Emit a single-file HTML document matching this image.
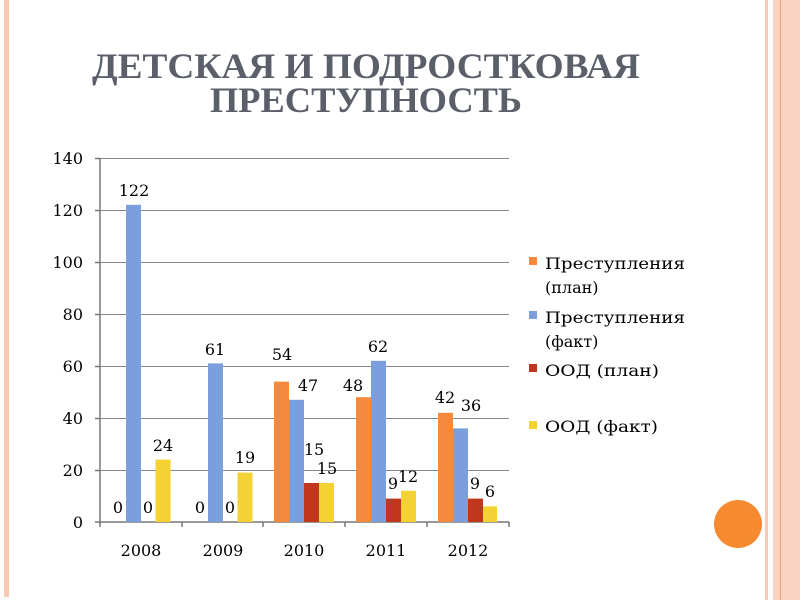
<!DOCTYPE html>
<html><head><meta charset="utf-8"><style>
html,body{margin:0;padding:0;background:#fff;}
svg{display:block;}
</style></head><body>
<svg width="800" height="600" viewBox="0 0 800 600" xmlns="http://www.w3.org/2000/svg" font-family="'DejaVu Serif', 'Liberation Serif', serif">
<rect x="0" y="0" width="800" height="600" fill="#fff"/>
<rect x="4" y="0" width="5" height="597" fill="#f9c9b5"/>
<rect x="765" y="0" width="3" height="600" fill="#f9c9b5"/>
<rect x="773" y="0" width="27" height="600" fill="#fbd3c2"/>
<rect x="780" y="0" width="1" height="600" fill="#f2a070"/>
<circle cx="738" cy="524" r="24" fill="#f58a30"/>
<g fill="#5a5f6a" font-weight="bold" font-size="36" text-anchor="middle" font-family="'Liberation Serif', serif">
<text x="366" y="78" textLength="548" lengthAdjust="spacingAndGlyphs">ДЕТСКАЯ И ПОДРОСТКОВАЯ</text>
<text x="366" y="112" textLength="312" lengthAdjust="spacingAndGlyphs">ПРЕСТУПНОСТЬ</text>
</g>
<g stroke="#888" stroke-width="1">
<line x1="100" y1="158.5" x2="509" y2="158.5"/>
<line x1="100" y1="210.5" x2="509" y2="210.5"/>
<line x1="100" y1="262.5" x2="509" y2="262.5"/>
<line x1="100" y1="314.5" x2="509" y2="314.5"/>
<line x1="100" y1="366.5" x2="509" y2="366.5"/>
<line x1="100" y1="418.5" x2="509" y2="418.5"/>
<line x1="100" y1="470.5" x2="509" y2="470.5"/>
</g>
<g stroke="#777" stroke-width="1.5">
<line x1="100" y1="158" x2="100" y2="527"/>
<line x1="95" y1="522" x2="509" y2="522"/>
<line x1="95" y1="158.5" x2="100" y2="158.5"/><line x1="95" y1="210.5" x2="100" y2="210.5"/>
<line x1="95" y1="262.5" x2="100" y2="262.5"/><line x1="95" y1="314.5" x2="100" y2="314.5"/>
<line x1="95" y1="366.5" x2="100" y2="366.5"/><line x1="95" y1="418.5" x2="100" y2="418.5"/>
<line x1="95" y1="470.5" x2="100" y2="470.5"/>
<line x1="182" y1="522" x2="182" y2="527"/><line x1="263" y1="522" x2="263" y2="527"/>
<line x1="345" y1="522" x2="345" y2="527"/><line x1="427" y1="522" x2="427" y2="527"/>
<line x1="509" y1="522" x2="509" y2="527"/>
</g>
<g font-size="16" fill="#000" text-anchor="end">
<text x="83" y="164">140</text><text x="83" y="216">120</text><text x="83" y="268">100</text>
<text x="83" y="320">80</text><text x="83" y="372">60</text><text x="83" y="424">40</text>
<text x="83" y="476">20</text><text x="83" y="528">0</text>
</g>
<g font-size="16" fill="#000" text-anchor="middle">
<text x="141" y="556">2008</text><text x="223" y="556">2009</text><text x="304" y="556">2010</text>
<text x="386" y="556">2011</text><text x="468" y="556">2012</text>
</g>
<g>
<rect x="126" y="204.8" width="15" height="317.2" fill="#7a9fdc"/>
<rect x="155.5" y="459.6" width="15" height="62.4" fill="#f5d234"/>
<rect x="208" y="363.4" width="15" height="158.6" fill="#7a9fdc"/>
<rect x="237.5" y="472.6" width="15" height="49.4" fill="#f5d234"/>
<rect x="274" y="381.6" width="15" height="140.4" fill="#f58a3c"/>
<rect x="289" y="399.8" width="15" height="122.2" fill="#7a9fdc"/>
<rect x="304" y="483" width="15" height="39" fill="#c0361f"/>
<rect x="319" y="483" width="15" height="39" fill="#f5d234"/>
<rect x="356" y="397.2" width="15" height="124.8" fill="#f58a3c"/>
<rect x="371" y="360.8" width="15" height="161.2" fill="#7a9fdc"/>
<rect x="386" y="498.6" width="15" height="23.4" fill="#c0361f"/>
<rect x="401" y="490.8" width="15" height="31.2" fill="#f5d234"/>
<rect x="438" y="412.8" width="15" height="109.2" fill="#f58a3c"/>
<rect x="453" y="428.4" width="15" height="93.6" fill="#7a9fdc"/>
<rect x="468" y="498.6" width="15" height="23.4" fill="#c0361f"/>
<rect x="483" y="506.4" width="14" height="15.6" fill="#f5d234"/>
</g>
<g font-size="16" fill="#000" text-anchor="middle">
<text x="134" y="196">122</text><text x="118" y="513">0</text><text x="148" y="513">0</text><text x="163" y="451">24</text>
<text x="200" y="513">0</text><text x="215" y="355">61</text><text x="230" y="513">0</text><text x="245" y="463">19</text>
<text x="282" y="360">54</text><text x="308" y="391">47</text><text x="314" y="455">15</text><text x="327" y="474">15</text>
<text x="353" y="391">48</text><text x="378" y="352">62</text><text x="393" y="489">9</text><text x="408" y="482">12</text>
<text x="445" y="403">42</text><text x="471" y="411">36</text><text x="475" y="489">9</text><text x="490" y="497">6</text>
</g>
<g font-size="16" fill="#000">
<rect x="529" y="257" width="8" height="8" fill="#f58a3c"/>
<text x="545" y="269" textLength="140" lengthAdjust="spacingAndGlyphs">Преступления</text><text x="545" y="293">(план)</text>
<rect x="529" y="311" width="8" height="8" fill="#7a9fdc"/>
<text x="545" y="323" textLength="140" lengthAdjust="spacingAndGlyphs">Преступления</text><text x="545" y="347">(факт)</text>
<rect x="529" y="364" width="8" height="8" fill="#c0361f"/>
<text x="545" y="376" textLength="114" lengthAdjust="spacingAndGlyphs">ООД (план)</text>
<rect x="529" y="421" width="8" height="8" fill="#f5d234"/>
<text x="545" y="432" textLength="113" lengthAdjust="spacingAndGlyphs">ООД (факт)</text>
</g>
</svg>
</body></html>
